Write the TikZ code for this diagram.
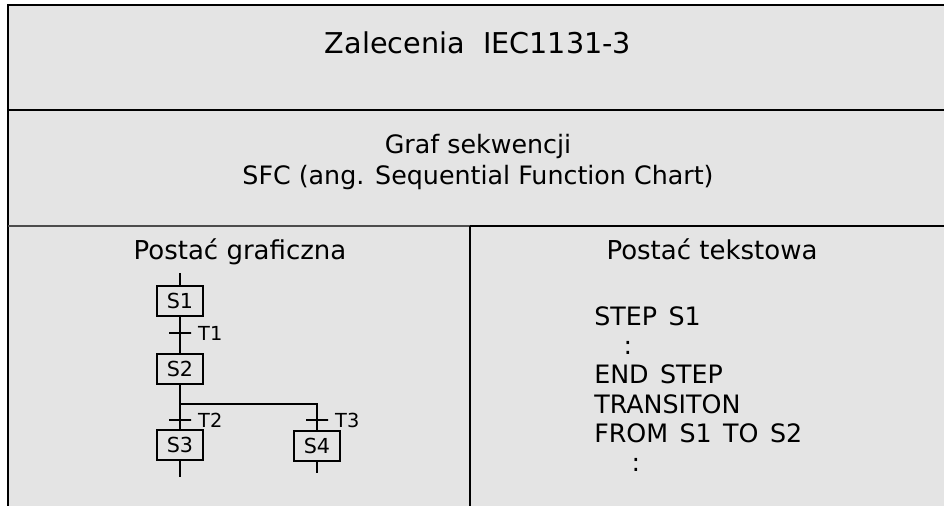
\documentclass[tikz,border=0pt]{standalone}
\usepackage{fontspec}
\setmainfont{DejaVu Sans}
\usetikzlibrary{positioning}
\definecolor{panel}{RGB}{228,228,228}

\begin{document}
\begin{tikzpicture}[
  x=0.75pt,y=-0.75pt,
  frame/.style={line width=1.6pt,draw=black},
  stepbox/.style={draw,line width=1.4pt,minimum width=34.5pt,minimum height=22.5pt,
                  inner sep=0pt,font=\fontsize{15.5}{17}\selectfont},
  trans/.style={draw,line width=1.4pt,minimum width=16.5pt,minimum height=0pt,inner sep=0pt},
  tlab/.style={font=\fontsize{14.5}{16}\selectfont,inner sep=4.5pt},
  link/.style={line width=1.4pt},
  head/.style={font=\fontsize{21.5}{25}\selectfont},
  sub/.style={align=center,font=\fontsize{19}{23}\selectfont},
  code/.style={align=left,font={\fontsize{19}{22}\selectfont\spaceskip=0.45em\relax},inner sep=0pt}
]
\useasboundingbox (0,0) rectangle (944,506);
\clip (0,0) rectangle (944,506);
\fill[panel] (8,5) rectangle (944,506);

% table frame
\draw[frame] (944,5) -- (8,5) -- (8,506);
\draw[frame] (8,110) -- (944,110);
\draw[frame,line width=1pt,draw=black!70] (8,226) -- (470,226);
\draw[frame] (470,226) -- (944,226);
\draw[frame] (470,226) -- (470,506);

% headings
\node[head] (title) at (478,43) {Zalecenia\ \ IEC1131-3};
\node[sub] (sfc) at (478,162) {Graf sekwencji\\SFC (ang. Sequential Function Chart)};
\node[sub,anchor=base,font=\fontsize{19.5}{23}\selectfont] (graf) at (240,259) {Postać graficzna};
\node[sub,anchor=base,font=\fontsize{19.5}{23}\selectfont] (tekst) at (712,259) {Postać tekstowa};

% SFC chart
\coordinate (in1) at (180,273);
\node[stepbox] (s1) at (180,301) {S1};
\node[trans,label={[tlab]right:T1}] (t1) at (180,333) {};
\node[stepbox] (s2) at (180,369) {S2};
\coordinate (br) at (180,404);
\node[trans,label={[tlab]right:T2}] (t2) at (180,420) {};
\node[stepbox] (s3) at (180,445) {S3};
\node[trans,label={[tlab]right:T3}] (t3) at (317,420) {};
\node[stepbox] (s4) at (317,446) {S4};
\coordinate (out3) at (180,477);
\coordinate (out4) at (317,473);

\draw[link] (in1) -- (s1);
\draw[link] (s1) -- (t1) -- (s2);
\draw[link] (s2) -- (t2) -- (s3);
\draw[link] (br) -| (t3);
\draw[link] (t3) -- (s4);
\draw[link] (s3) -- (out3);
\draw[link] (s4) -- (out4);

% text form
\node[code,anchor=north west] (prog) at (594,306)
  {STEP S1\\\hspace*{22pt}:\\END STEP\\TRANSITON\\FROM S1 TO S2\\\hspace*{28pt}:};
\end{tikzpicture}
\end{document}
